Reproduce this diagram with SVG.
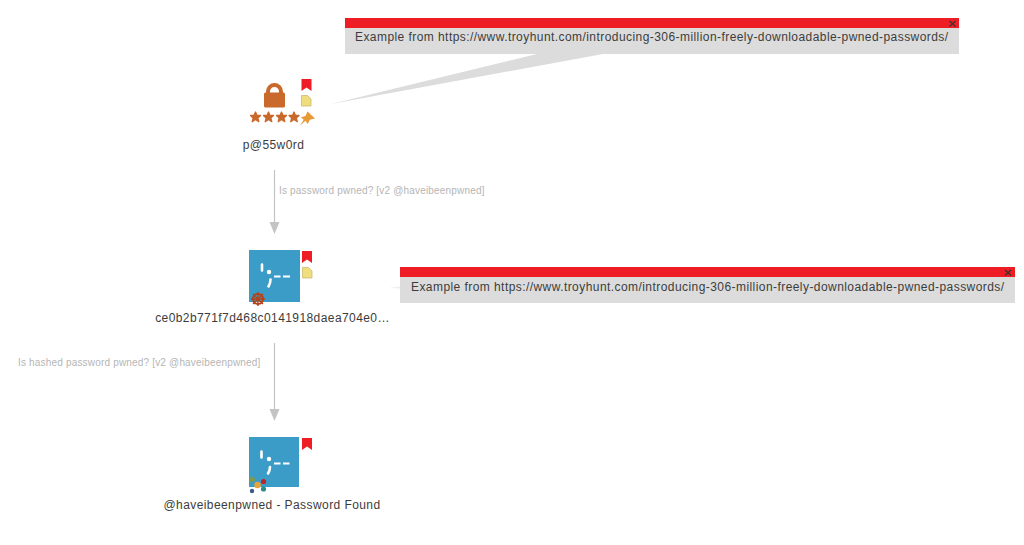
<svg xmlns="http://www.w3.org/2000/svg" width="1024" height="545" viewBox="0 0 1024 545">
<style>
text{font-family:"Liberation Sans",Arial,sans-serif}
.lab{font-size:12px;fill:#3c3c3c;text-anchor:middle;letter-spacing:.42px}
.note{font-size:12px;fill:#3c3c3c;letter-spacing:.435px}
.edge{font-size:10px;fill:#b5b5b5;letter-spacing:.18px}
.line{stroke:#c4c4c4;stroke-width:1.2;fill:none}
.head{fill:#c4c4c4}
.bm{fill:#ee1c25}
.doc{fill:#efdd7e;stroke:#c9bb70;stroke-width:.8}
.tile{fill:#3b9cc8}
.glyph{stroke:#fff;fill:none}
.x{stroke:#333;stroke-width:1.1}
</style>
<defs>
<polygon id="star" points="0,-5 1.500,-1.500 5,-1.500 2.300,1 3.300,4.700 0,2.500 -3.300,4.700 -2.300,1 -5,-1.500 -1.500,-1.500" fill="#c9692b" stroke="#c9692b" stroke-width="1.300" stroke-linejoin="round"/>
</defs>
<rect width="1024" height="545" fill="#fff"/>
<g id="connectors">
<line class="line" x1="274.500" y1="170" x2="274.500" y2="224"/>
<polygon class="head" points="269.500,222 279.500,222 274.500,234"/>
<text class="edge" x="279" y="194">Is password pwned? [v2 @haveibeenpwned]</text>
<line class="line" x1="274.500" y1="343" x2="274.500" y2="411"/>
<polygon class="head" points="269.500,409 279.500,409 274.500,421"/>
<text class="edge" x="18" y="366">Is hashed password pwned? [v2 @haveibeenpwned]</text>
</g>
<g id="node-password">
<path d="M268 94V91.500a6.500 6.500 0 0 1 13 0V94" fill="none" stroke="#c9692b" stroke-width="4"/>
<rect x="264" y="92.500" width="21" height="15" rx="1.500" fill="#c9692b"/>
<use href="#star" x="255.500" y="117"/>
<use href="#star" x="268.500" y="117"/>
<use href="#star" x="281.500" y="117"/>
<use href="#star" x="294" y="117"/>
<polygon class="bm" points="301.500,79 311.500,79 311.500,91 306.500,87.500 301.500,91"/>
<path class="doc" d="M301.500 95.500h6l3.500 3.500v7h-9.500z"/>
<path d="M307.500 111.500l7.500 7-5.200 1.200-2 4.300-2.300-3.300-5.500 4.800 3.700-5.800-2.700-2.500 4.500-1.200z" fill="#e79a35"/>
<text class="lab" x="273.500" y="149">p@55w0rd</text>
</g>
<g id="node-hash">
<rect class="tile" x="249" y="250" width="51" height="52"/>
<path class="glyph" stroke-width="2.600" stroke-linecap="round" d="M262 264.500v6M270.500 279.500c0 2.500-.8 5-2 7"/>
<path class="glyph" stroke-width="2.200" d="M274 276.500h6.500M283 276.500h7"/>
<circle cx="269" cy="272" r="2.200" fill="#fff"/>
<polygon class="bm" points="302,251 312,251 312,263 307,259.500 302,263"/>
<path class="doc" d="M302.500 267.500h6l3.500 3.500v7h-9.500z"/>
<circle cx="258" cy="299" r="5" fill="none" stroke="#b5431a" stroke-width="2.200"/>
<path d="M258 292v14M251 299h14M253 294l10 10M263 294l-10 10" stroke="#b5431a" stroke-width="1.300"/>
<text class="lab" x="272.500" y="322">ce0b2b771f7d468c0141918daea704e0…</text>
</g>
<g id="node-found">
<rect class="tile" x="249" y="437" width="50" height="50"/>
<path class="glyph" stroke-width="2.600" stroke-linecap="round" d="M261.500 451.500v6M270 467c0 2.500-.8 4.500-2 6.500"/>
<path class="glyph" stroke-width="2.200" d="M274 463.500h6.500M283 463.500h6.500"/>
<circle cx="269" cy="459" r="2.200" fill="#fff"/>
<polygon class="bm" points="302,438 312,438 312,450 307,446.500 302,450"/>
<circle cx="252" cy="479.500" r="2.800" fill="#7c9a4e"/>
<circle cx="257.500" cy="485" r="3.300" fill="#e8a33a"/>
<circle cx="263.500" cy="481.500" r="2.600" fill="#b5262e"/>
<circle cx="263.500" cy="489" r="2.600" fill="#2f8b8b"/>
<circle cx="252" cy="491" r="2.200" fill="#3b5a8c"/>
<text class="lab" x="272" y="509">@haveibeenpwned - Password Found</text>
</g>
<g id="note-1">
<polygon points="331,104 537,54 603,54" fill="#dcdcdc"/>
<rect x="345" y="18" width="614" height="36" fill="#dcdcdc"/>
<rect x="345" y="18" width="614" height="10" fill="#ee1c25"/>
<path class="x" d="M949.500 21l6 5.500M955.500 21l-6 5.500"/>
<text class="note" x="355" y="41">Example from https://www.troyhunt.com/introducing-306-million-freely-downloadable-pwned-passwords/</text>
</g>
<g id="note-2">
<polygon points="389,288 400,286.500 400,288.500" fill="#eeeeee"/>
<rect x="400" y="267" width="615" height="36" fill="#dcdcdc"/>
<rect x="400" y="267" width="615" height="10" fill="#ee1c25"/>
<path class="x" d="M1005 270l6 5.500M1011 270l-6 5.500"/>
<text class="note" x="411" y="291">Example from https://www.troyhunt.com/introducing-306-million-freely-downloadable-pwned-passwords/</text>
</g>
</svg>
